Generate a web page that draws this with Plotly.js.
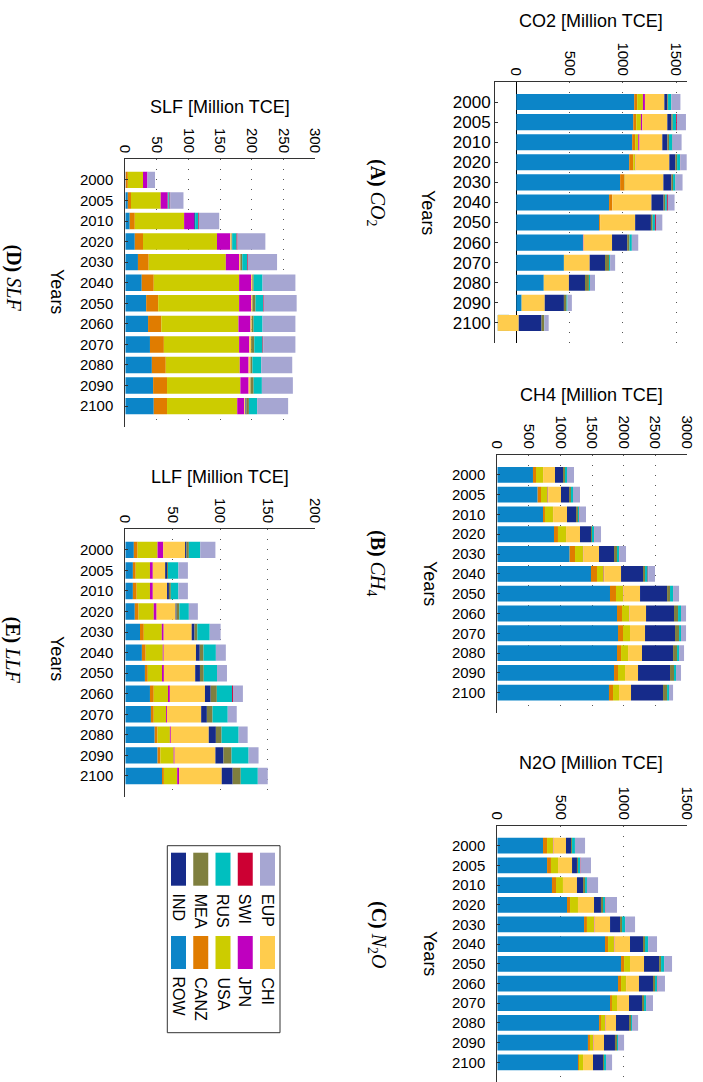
<!DOCTYPE html>
<html>
<head>
<meta charset="utf-8">
<script src="https://cdn.plot.ly/plotly-3.0.1.min.js"></script>
<style>html,body{margin:0;padding:0;background:#fff;}#chart{width:703px;height:1082px;}</style>
</head>
<body>
<div id="chart"></div>
<script>
// ---------------- DATA ----------------
const years = ["2000","2005","2010","2020","2030","2040","2050","2060","2070","2080","2090","2100"];
const regions = ["ROW","CANZ","USA","JPN","CHI","IND","MEA","RUS","SWI","EUP"];
const regionColors = ["#0C85C8","#E07C00","#CCCC00","#BF00BF","#FFCC4D","#162B8A","#7F7F3F","#00BFBF","#CC0033","#A6A6D2"];

// rows follow the order of `regions`; columns follow `years`  [Million TCE]
const CO2 = [
  [1107,1098,1088,1060,975,871,777,626,447,258,50,-174],
  [28,28,28,38,38,28,9,0,0,0,0,0],
  [54,44,29,18,6,2,0,0,0,0,0,0],
  [19,13,12,3,1,1,1,5,0,0,0,0],
  [182,235,214,318,361,367,329,268,242,236,217,197],
  [28,38,47,57,75,114,148,142,144,151,180,214],
  [7,13,16,16,16,15,16,22,38,37,25,25],
  [31,31,32,28,22,16,22,22,10,10,9,2],
  [0,8,2,2,1,9,9,0,0,0,0,0],
  [85,85,84,67,66,63,60,60,47,47,41,40]
];
const CH4 = [
  [565,639,724,898,1146,1484,1785,1896,1912,1896,1849,1769],
  [48,53,31,63,85,95,95,79,79,64,63,64],
  [111,106,127,127,126,106,111,111,111,111,111,95],
  [2,8,2,1,6,8,6,6,0,0,0,0],
  [188,203,220,221,248,267,264,264,238,221,206,190],
  [127,127,143,174,238,348,428,443,475,492,507,507],
  [31,31,31,16,47,32,47,64,64,63,63,64],
  [32,32,16,32,32,42,48,47,31,32,32,31],
  [0,0,8,6,6,8,0,0,0,0,0,0],
  [111,111,103,105,105,108,95,80,80,79,79,64]
];
const N2O = [
  [362,394,433,552,687,853,980,956,893,806,718,639],
  [32,31,32,24,23,24,24,24,15,15,16,8],
  [47,56,55,63,56,47,47,39,40,32,24,32],
  [4,0,0,0,4,4,0,1,0,4,4,0],
  [99,111,111,127,123,123,111,102,95,83,83,79],
  [40,39,48,55,79,103,119,111,103,103,87,79],
  [8,8,16,16,16,16,16,16,16,16,16,8],
  [23,16,15,16,24,24,24,16,16,8,8,16],
  [0,4,0,4,0,0,0,4,0,0,0,0],
  [80,83,88,91,79,71,63,59,55,48,48,48]
];
const SLF = [
  [0.5,4,7,15,20,26,33,36,39,42,44,45],
  [3.5,5,8,13,17,19,19,21,22,22,22,21],
  [24,47,78,117,122,135,128,122,119,117,116,111],
  [7,11,16,21,21,19,19,19,16,14,13,11],
  [0,0,0,2,2,2,2,2,3,3,3,2],
  [0,0,1.5,0,0,0,0,0,0,0,0,1.5],
  [0,1,0,1,3,2,5,3,5,3,5,4],
  [0,2,5,7,8,14,12,14,13,14,13,13],
  [0,1,1,1.5,1,0,1,0,1,0,0,0],
  [12,21,32,44,46,52,52,52,51,49,49,49]
];
const LLF = [
  [9,8,8,10,15.5,17.5,20.7,26,27,31,34,38.7],
  [4,3,4,4,4,4,3,4,3,3,3,2],
  [21,15,14,16,19,18,15,15,13,13,14,14],
  [6,3,3,3,2,1,2,2,1,1,1,2],
  [23,13,15,20,29.5,34,33,37,36,40,43,45],
  [1.5,2,2,1,3,4,5,6,6,7.5,8.5,11.5],
  [2.5,1,2,3,3,4,4,6.5,6,6,8.5,8.5],
  [12,11,8,10,13,13,14,16,16,18,18,18],
  [0,0,0,0,0,0,0,1,0,0,0,0],
  [16,10,10,9.5,11.5,10.5,10.5,10.5,9.5,9.5,10.5,10.5]
];
const panelTitles = ["CO2 [Million TCE]","CH4 [Million TCE]","N2O [Million TCE]","SLF [Million TCE]","LLF [Million TCE]"];
const panelCaptions = ["<b>(A)</b> <i>CO</i><sub>2</sub>","<b>(B)</b> <i>CH</i><sub>4</sub>","<b>(C)</b> <i>N</i><sub>2</sub><i>O</i>","<b>(D)</b> <i>SLF</i>","<b>(E)</b> <i>LLF</i>"];
const yearsLabel = "Years";

// ---------------- LAYOUT ----------------
const W = 703, H = 1082;
const px = x => x / W;
const py = y => 1 - y / H;
const FONT = "Liberation Sans, Arial, Helvetica, sans-serif";
const SERIF = "Liberation Serif, Times New Roman, serif";

const panels = [
  {data: CO2, box: [495, 686.7, 82, 343],    xr: [-200, 1600], dt: 500, zero: true,  yfs: 17, stand: 0},
  {data: CH4, box: [497.3, 686.7, 455, 712.5], xr: [0, 3000],  dt: 500, zero: false, yfs: 15, stand: 8},
  {data: N2O, box: [497.3, 686.7, 826, 1082],  xr: [0, 1500],  dt: 500, zero: false, yfs: 15, stand: 8},
  {data: SLF, box: [125.3, 315, 159.3, 426.7], xr: [0, 300],   dt: 50,  zero: false, yfs: 15, stand: 8},
  {data: LLF, box: [125.3, 315, 529.3, 796.5], xr: [0, 200],   dt: 50,  zero: false, yfs: 15, stand: 8}
];
const titlePos = [[591, 21], [591, 395], [591, 763], [220, 107], [220, 477]];
const yearsPos = [[428, 212], [430, 583], [430, 953], [57, 291], [57, 658]];
// [x, y, xanchor]
const captionPos = [[377, 193, "center"], [377, 563, "center"], [377, 935, "center"], [0, 278, "left"], [0, 650, "left"]];

const traces = [];
const layout = {
  width: W, height: H,
  margin: {l: 0, r: 0, t: 0, b: 0},
  paper_bgcolor: "#fff", plot_bgcolor: "rgba(0,0,0,0)",
  barmode: "overlay", showlegend: false,
  font: {family: FONT, color: "#000"},
  annotations: [], shapes: []
};

panels.forEach((p, k) => {
  const n = k + 1;
  const xa = "x" + (n === 1 ? "" : n), ya = "y" + (n === 1 ? "" : n);
  const [l, r, t, b] = p.box;
  // categories span from -1 (top) to 12 (bottom): 13 slots of equal height
  const slot = (b - t) / 13;
  const fullSlots = (b - t) / slot;
  const cum = years.map(() => 0);
  p.data.forEach((vals, i) => {
    traces.push({
      type: "bar", orientation: "h",
      y: years, x: vals, base: cum.slice(),
      xaxis: xa, yaxis: ya, width: 0.8,
      marker: {color: regionColors[i], line: {width: 0}},
      name: regions[i], hoverinfo: "x+name"
    });
    vals.forEach((v, j) => { cum[j] += v; });
  });
  layout["xaxis" + (n === 1 ? "" : n)] = {
    domain: [px(l), px(r)], anchor: ya, range: p.xr,
    side: "top", tickangle: 90, tick0: 0, dtick: p.dt,
    showgrid: true, gridcolor: "#555", griddash: "1px,9px", gridwidth: 1,
    showline: true, linecolor: "#333", linewidth: 1, ticks: "",
    zeroline: p.zero, zerolinecolor: "#000", zerolinewidth: 1,
    tickfont: {family: FONT, size: 15, color: "#000"}, fixedrange: true
  };
  layout["yaxis" + (n === 1 ? "" : n)] = {
    domain: [py(b), py(t)], anchor: xa, type: "category",
    categoryorder: "array", categoryarray: years,
    range: [fullSlots - 1, -1],
    showline: true, linecolor: "#333", linewidth: 1,
    ticks: "inside", ticklen: 3, tickcolor: "#333",
    showgrid: false, zeroline: false, ticklabelstandoff: p.stand,
    tickfont: {family: FONT, size: p.yfs, color: "#000"}, fixedrange: true
  };
  layout.annotations.push({
    xref: "paper", yref: "paper", x: px(titlePos[k][0]), y: py(titlePos[k][1]),
    text: panelTitles[k], showarrow: false, xanchor: "center", yanchor: "middle",
    font: {family: FONT, size: 18, color: "#000"}
  });
  layout.annotations.push({
    xref: "paper", yref: "paper", x: px(yearsPos[k][0]), y: py(yearsPos[k][1]),
    text: yearsLabel, showarrow: false, textangle: 90, xanchor: "center", yanchor: "middle",
    font: {family: FONT, size: 18, color: "#000"}
  });
  layout.annotations.push({
    xref: "paper", yref: "paper", x: px(captionPos[k][0]), y: py(captionPos[k][1]),
    text: panelCaptions[k], showarrow: false, textangle: 90,
    xanchor: captionPos[k][2], yanchor: "middle", borderpad: 0,
    font: {family: SERIF, size: 20, color: "#000"}
  });
});

// ---------------- LEGEND (rotated box) ----------------
layout.shapes.push({
  type: "rect", xref: "paper", yref: "paper",
  x0: px(167.3), x1: px(280), y0: py(1032.7), y1: py(845.7),
  line: {color: "#333", width: 1}, fillcolor: "rgba(0,0,0,0)"
});
const legendRows = [{y0: 852.7, y1: 885.7, ty: 892}, {y0: 936, y1: 969, ty: 975}];
regions.forEach((name, i) => {
  const row = i < 5 ? 1 : 0;       // first five in the lower row, last five in the upper row
  const col = i % 5;
  const x0 = 171 + 22.25 * col, x1 = x0 + 15;
  const R = legendRows[row];
  layout.shapes.push({
    type: "rect", xref: "paper", yref: "paper",
    x0: px(x0), x1: px(x1), y0: py(R.y1), y1: py(R.y0),
    line: {width: 0}, fillcolor: regionColors[i]
  });
  layout.annotations.push({
    xref: "paper", yref: "paper", x: px((x0 + x1) / 2), y: py(R.ty),
    text: name, showarrow: false, textangle: 90, xanchor: "center", yanchor: "top",
    font: {family: FONT, size: 16, color: "#000"}
  });
});

Plotly.newPlot("chart", traces, layout, {staticPlot: true, displayModeBar: false});
</script>
</body>
</html>
